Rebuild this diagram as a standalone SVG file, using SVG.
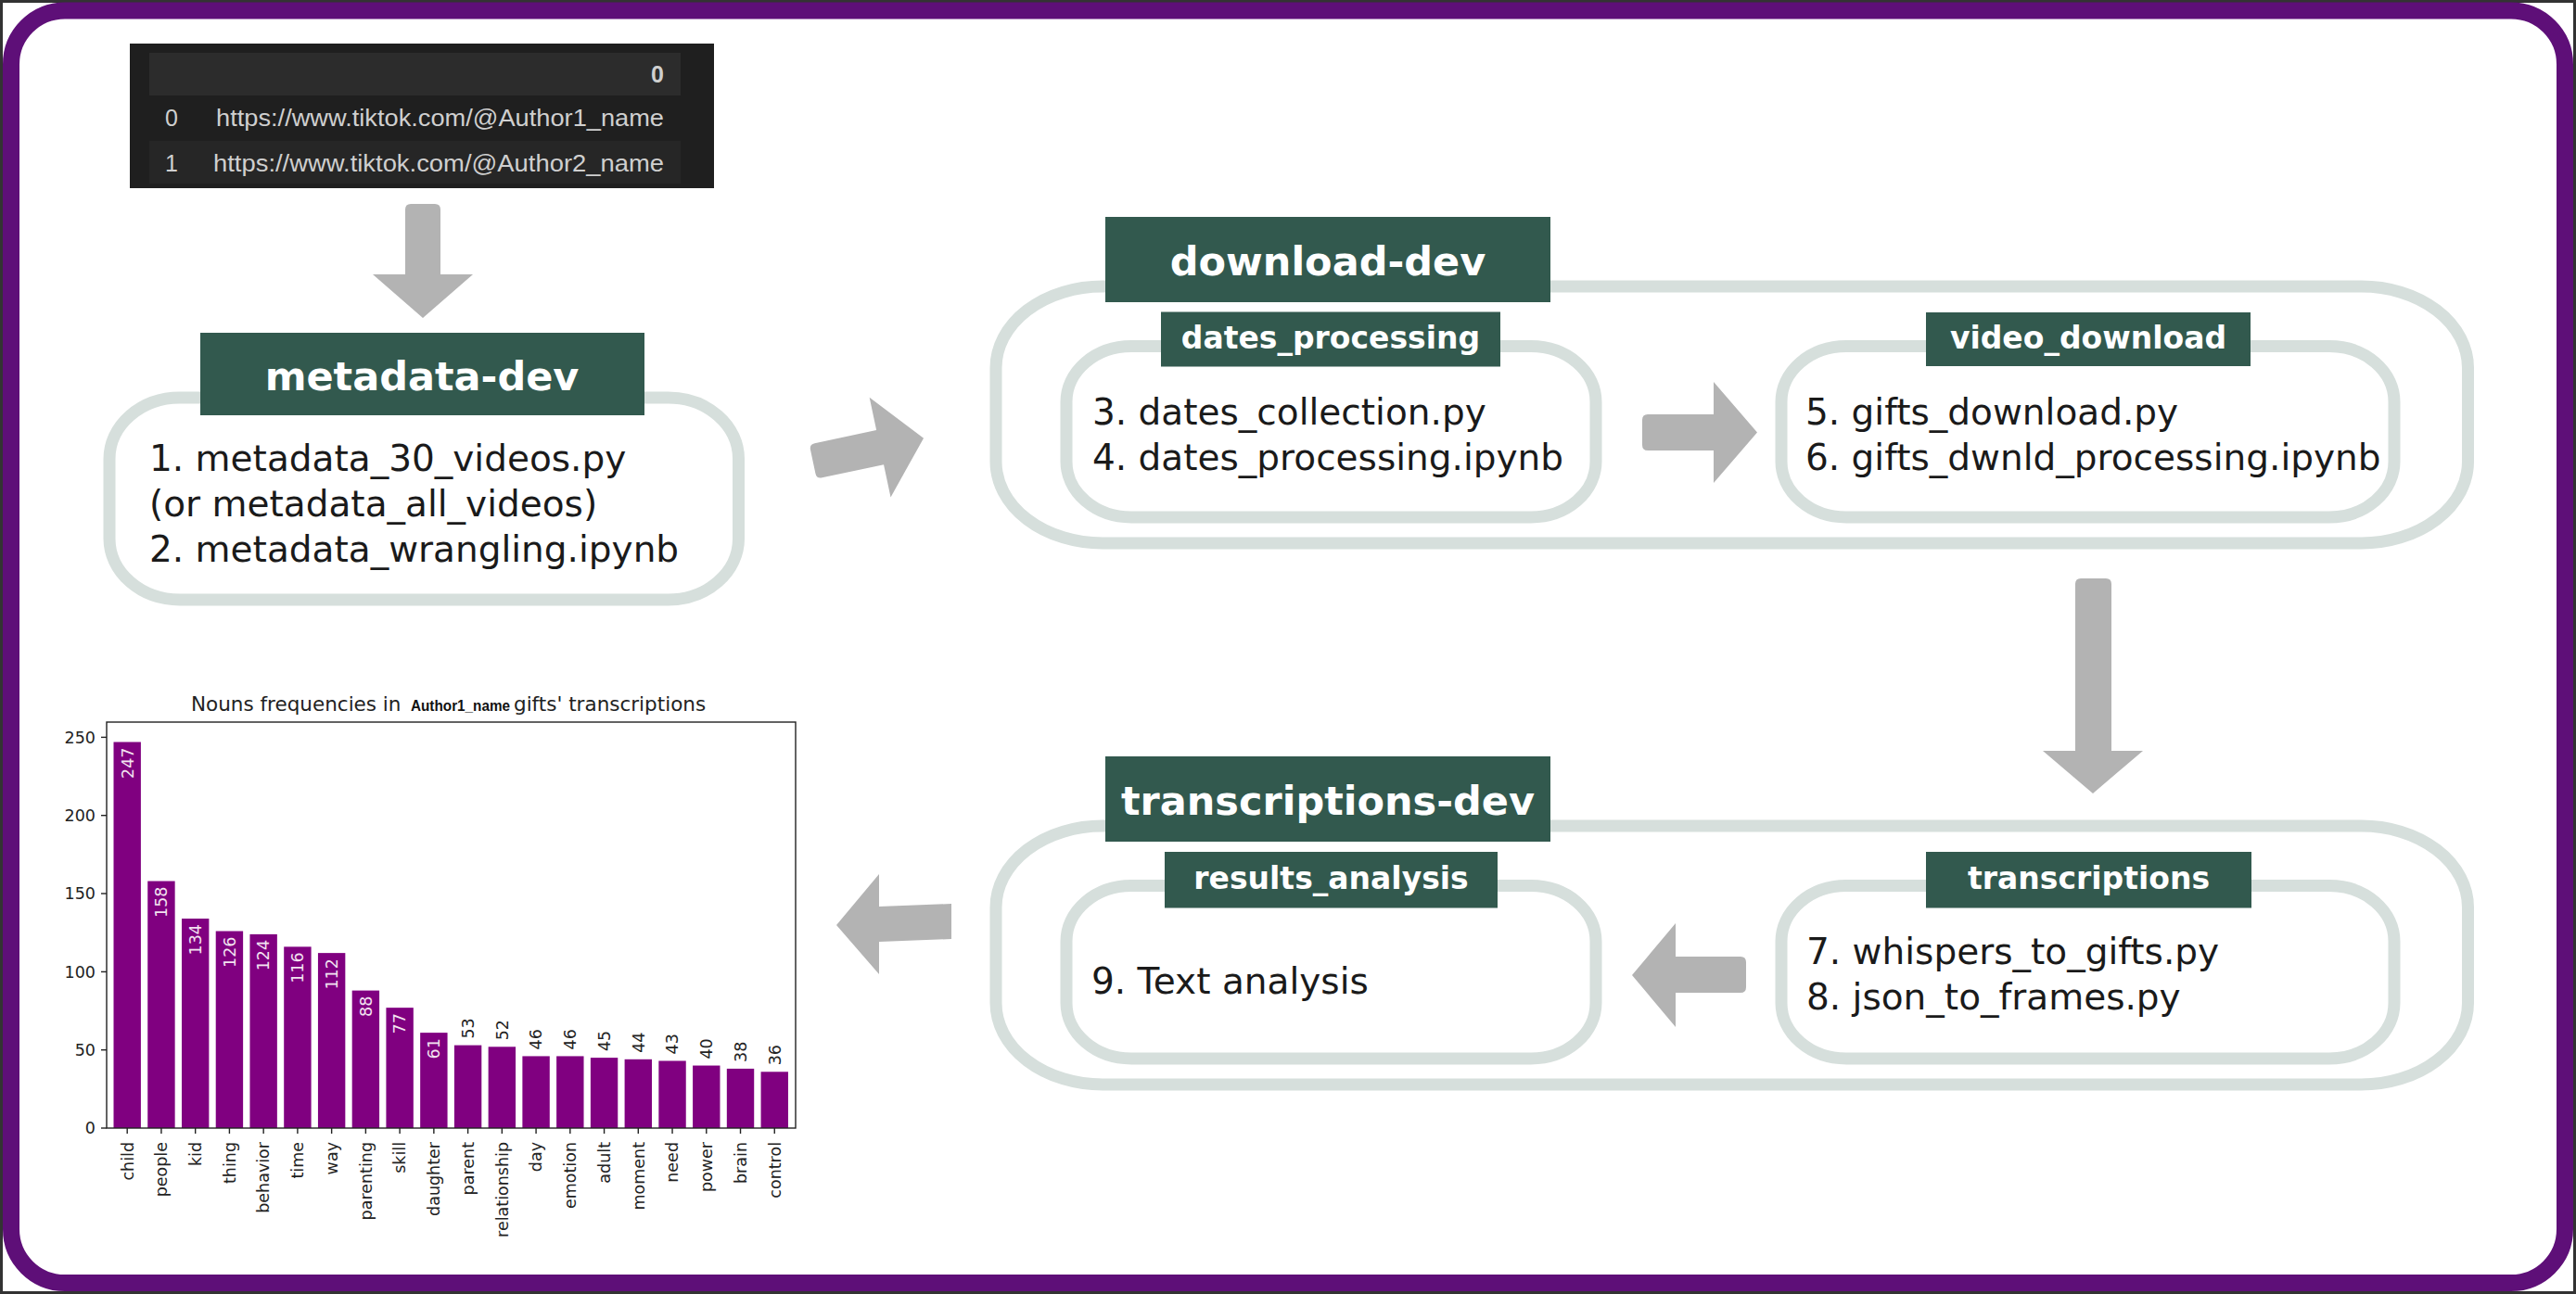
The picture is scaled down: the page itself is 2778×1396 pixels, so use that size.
<svg xmlns="http://www.w3.org/2000/svg" width="2778" height="1396" viewBox="0 0 2778 1396">
<style>
.hdr{fill:#32594e}
.hdrtxt{font-family:"DejaVu Sans",sans-serif;font-weight:bold;fill:#ffffff;text-anchor:middle}
.box{fill:#ffffff;stroke:#d6dfdc;stroke-width:13}
.body{font-family:"DejaVu Sans",sans-serif;font-size:39px;fill:#1a1a1a}
.arrow{fill:#b3b3b3}
.bar{fill:#800080}
.ct{font-family:"DejaVu Sans",sans-serif;font-size:17.5px;fill:#222222}
.title{font-family:"DejaVu Sans",sans-serif;font-size:21.5px;fill:#222222}
.vin{fill:#f3e3f1}
.tick{stroke:#222222;stroke-width:1.4}
.tt{font-family:"Liberation Sans",Arial,sans-serif;font-size:25px;fill:#cfcfcf}
</style>
<rect x="0" y="0" width="2778" height="1396" fill="#ffffff"/>
<rect x="1.5" y="1.5" width="2775" height="1393" fill="none" stroke="#333333" stroke-width="3"/>
<rect x="12" y="11.5" width="2754" height="1372.5" rx="58" fill="none" stroke="#5e0f78" stroke-width="18"/>

<g id="tiktok-table">
<rect x="140" y="47" width="630" height="156" fill="#1f1f1f"/>
<rect x="161" y="57" width="573" height="46" fill="#2c2c2c"/>
<rect x="161" y="152" width="573" height="46" fill="#262626"/>
<text class="tt" x="716" y="89" text-anchor="end" font-weight="bold">0</text>
<text class="tt" x="192" y="136" text-anchor="end">0</text>
<text class="tt" x="233" y="136" textLength="483" lengthAdjust="spacingAndGlyphs">https://www.tiktok.com/@Author1_name</text>
<text class="tt" x="192" y="185" text-anchor="end">1</text>
<text class="tt" x="230" y="185" textLength="486" lengthAdjust="spacingAndGlyphs">https://www.tiktok.com/@Author2_name</text>
</g>

<g id="metadata-dev">
<rect class="box" x="118" y="429" width="678.5" height="218" rx="76" ry="66"/>
<rect class="hdr" x="216" y="359" width="479" height="89"/>
<text class="hdrtxt" x="455" y="421" font-size="43">metadata-dev</text>
<text class="body" x="161" y="508">1. metadata_30_videos.py</text>
<text class="body" x="161" y="557">(or metadata_all_videos)</text>
<text class="body" x="161" y="606">2. metadata_wrangling.ipynb</text>
</g>

<g id="download-dev">
<rect class="box" x="1074" y="309" width="1587.5" height="277" rx="115" ry="88"/>
<rect class="hdr" x="1192" y="234" width="480" height="92"/>
<text class="hdrtxt" x="1432" y="297" font-size="43">download-dev</text>
<g id="dates_processing">
<rect class="box" x="1150" y="373.5" width="571" height="184.5" rx="70" ry="60"/>
<rect class="hdr" x="1252" y="336.5" width="366" height="59"/>
<text class="hdrtxt" x="1435" y="375.5" font-size="33">dates_processing</text>
<text class="body" x="1178" y="458">3. dates_collection.py</text>
<text class="body" x="1178" y="506.5">4. dates_processing.ipynb</text>
</g>
<g id="video_download">
<rect class="box" x="1921" y="373.5" width="661" height="184.5" rx="70" ry="60"/>
<rect class="hdr" x="2077" y="337" width="350" height="58"/>
<text class="hdrtxt" x="2252" y="375.5" font-size="33">video_download</text>
<text class="body" x="1947" y="458">5. gifts_download.py</text>
<text class="body" x="1947" y="506.5">6. gifts_dwnld_processing.ipynb</text>
</g>
</g>

<g id="transcriptions-dev">
<rect class="box" x="1074" y="891" width="1587.5" height="279" rx="115" ry="88"/>
<rect class="hdr" x="1192" y="816" width="480" height="92"/>
<text class="hdrtxt" x="1432" y="879" font-size="43">transcriptions-dev</text>
<g id="results_analysis">
<rect class="box" x="1150" y="955.5" width="571" height="186.5" rx="70" ry="60"/>
<rect class="hdr" x="1256" y="919" width="359" height="60.5"/>
<text class="hdrtxt" x="1435.5" y="958.5" font-size="33">results_analysis</text>
<text class="body" x="1177" y="1072">9. Text analysis</text>
</g>
<g id="transcriptions">
<rect class="box" x="1921" y="955.5" width="661" height="186.5" rx="70" ry="60"/>
<rect class="hdr" x="2077" y="919" width="351" height="60.5"/>
<text class="hdrtxt" x="2252.5" y="958.5" font-size="33">transcriptions</text>
<text class="body" x="1948" y="1040">7. whispers_to_gifts.py</text>
<text class="body" x="1948" y="1088.5">8. json_to_frames.py</text>
</g>
</g>

<g id="chart">
<text class="title" x="206" y="767">Nouns frequencies in</text>
<text x="443" y="767" font-family="'Liberation Sans',Arial,sans-serif" font-weight="bold" font-size="16" fill="#111111" textLength="107" lengthAdjust="spacingAndGlyphs">Author1_name</text>
<text class="title" x="554" y="767">gifts' transcriptions</text>
<g>
<rect class="bar" x="122.5" y="800.5" width="29.4" height="416.5"/>
<rect class="bar" x="159.24" y="950.55" width="29.4" height="266.45"/>
<rect class="bar" x="195.98" y="991.02" width="29.4" height="225.98"/>
<rect class="bar" x="232.72" y="1004.51" width="29.4" height="212.49"/>
<rect class="bar" x="269.46" y="1007.89" width="29.4" height="209.11"/>
<rect class="bar" x="306.2" y="1021.38" width="29.4" height="195.62"/>
<rect class="bar" x="342.94" y="1028.12" width="29.4" height="188.88"/>
<rect class="bar" x="379.68" y="1068.6" width="29.4" height="148.4"/>
<rect class="bar" x="416.42" y="1087.15" width="29.4" height="129.85"/>
<rect class="bar" x="453.16" y="1114.13" width="29.4" height="102.87"/>
<rect class="bar" x="489.9" y="1127.62" width="29.4" height="89.38"/>
<rect class="bar" x="526.64" y="1129.31" width="29.4" height="87.69"/>
<rect class="bar" x="563.38" y="1139.43" width="29.4" height="77.57"/>
<rect class="bar" x="600.12" y="1139.43" width="29.4" height="77.57"/>
<rect class="bar" x="636.86" y="1141.11" width="29.4" height="75.89"/>
<rect class="bar" x="673.6" y="1142.8" width="29.4" height="74.2"/>
<rect class="bar" x="710.34" y="1144.48" width="29.4" height="72.52"/>
<rect class="bar" x="747.08" y="1149.54" width="29.4" height="67.46"/>
<rect class="bar" x="783.82" y="1152.92" width="29.4" height="64.08"/>
<rect class="bar" x="820.56" y="1156.29" width="29.4" height="60.71"/>
</g>
<g text-anchor="end">
<text class="ct vin" transform="translate(143.5,806.5) rotate(-90)">247</text>
<text class="ct vin" transform="translate(180.24,956.55) rotate(-90)">158</text>
<text class="ct vin" transform="translate(216.98,997.02) rotate(-90)">134</text>
<text class="ct vin" transform="translate(253.72,1010.51) rotate(-90)">126</text>
<text class="ct vin" transform="translate(290.46,1013.89) rotate(-90)">124</text>
<text class="ct vin" transform="translate(327.2,1027.38) rotate(-90)">116</text>
<text class="ct vin" transform="translate(363.94,1034.12) rotate(-90)">112</text>
<text class="ct vin" transform="translate(400.68,1074.6) rotate(-90)">88</text>
<text class="ct vin" transform="translate(437.42,1093.15) rotate(-90)">77</text>
<text class="ct vin" transform="translate(474.16,1120.13) rotate(-90)">61</text>
</g>
<g class="ct" text-anchor="start">
<text transform="translate(510.9,1120.62) rotate(-90)">53</text>
<text transform="translate(547.64,1122.31) rotate(-90)">52</text>
<text transform="translate(584.38,1132.43) rotate(-90)">46</text>
<text transform="translate(621.12,1132.43) rotate(-90)">46</text>
<text transform="translate(657.86,1134.11) rotate(-90)">45</text>
<text transform="translate(694.6,1135.8) rotate(-90)">44</text>
<text transform="translate(731.34,1137.48) rotate(-90)">43</text>
<text transform="translate(768.08,1142.54) rotate(-90)">40</text>
<text transform="translate(804.82,1145.92) rotate(-90)">38</text>
<text transform="translate(841.56,1149.29) rotate(-90)">36</text>
</g>
<rect x="115" y="779" width="743" height="438" fill="none" stroke="#222222" stroke-width="1.4"/>
<g class="tick">
<line x1="109" y1="1217" x2="115" y2="1217"/>
<line x1="109" y1="1132.7" x2="115" y2="1132.7"/>
<line x1="109" y1="1048.4" x2="115" y2="1048.4"/>
<line x1="109" y1="964" x2="115" y2="964"/>
<line x1="109" y1="879.7" x2="115" y2="879.7"/>
<line x1="109" y1="795.4" x2="115" y2="795.4"/>
</g>
<g class="ct" text-anchor="end">
<text x="103" y="1223.3">0</text>
<text x="103" y="1139">50</text>
<text x="103" y="1054.7">100</text>
<text x="103" y="970.3">150</text>
<text x="103" y="886">200</text>
<text x="103" y="801.7">250</text>
</g>
<g class="tick">
<line x1="137.2" y1="1217" x2="137.2" y2="1223"/>
<line x1="173.94" y1="1217" x2="173.94" y2="1223"/>
<line x1="210.68" y1="1217" x2="210.68" y2="1223"/>
<line x1="247.42" y1="1217" x2="247.42" y2="1223"/>
<line x1="284.16" y1="1217" x2="284.16" y2="1223"/>
<line x1="320.9" y1="1217" x2="320.9" y2="1223"/>
<line x1="357.64" y1="1217" x2="357.64" y2="1223"/>
<line x1="394.38" y1="1217" x2="394.38" y2="1223"/>
<line x1="431.12" y1="1217" x2="431.12" y2="1223"/>
<line x1="467.86" y1="1217" x2="467.86" y2="1223"/>
<line x1="504.6" y1="1217" x2="504.6" y2="1223"/>
<line x1="541.34" y1="1217" x2="541.34" y2="1223"/>
<line x1="578.08" y1="1217" x2="578.08" y2="1223"/>
<line x1="614.82" y1="1217" x2="614.82" y2="1223"/>
<line x1="651.56" y1="1217" x2="651.56" y2="1223"/>
<line x1="688.3" y1="1217" x2="688.3" y2="1223"/>
<line x1="725.04" y1="1217" x2="725.04" y2="1223"/>
<line x1="761.78" y1="1217" x2="761.78" y2="1223"/>
<line x1="798.52" y1="1217" x2="798.52" y2="1223"/>
<line x1="835.26" y1="1217" x2="835.26" y2="1223"/>
</g>
<g class="ct" text-anchor="end">
<text transform="translate(143.5,1232) rotate(-90)">child</text>
<text transform="translate(180.24,1232) rotate(-90)">people</text>
<text transform="translate(216.98,1232) rotate(-90)">kid</text>
<text transform="translate(253.72,1232) rotate(-90)">thing</text>
<text transform="translate(290.46,1232) rotate(-90)">behavior</text>
<text transform="translate(327.2,1232) rotate(-90)">time</text>
<text transform="translate(363.94,1232) rotate(-90)">way</text>
<text transform="translate(400.68,1232) rotate(-90)">parenting</text>
<text transform="translate(437.42,1232) rotate(-90)">skill</text>
<text transform="translate(474.16,1232) rotate(-90)">daughter</text>
<text transform="translate(510.9,1232) rotate(-90)">parent</text>
<text transform="translate(547.64,1232) rotate(-90)">relationship</text>
<text transform="translate(584.38,1232) rotate(-90)">day</text>
<text transform="translate(621.12,1232) rotate(-90)">emotion</text>
<text transform="translate(657.86,1232) rotate(-90)">adult</text>
<text transform="translate(694.6,1232) rotate(-90)">moment</text>
<text transform="translate(731.34,1232) rotate(-90)">need</text>
<text transform="translate(768.08,1232) rotate(-90)">power</text>
<text transform="translate(804.82,1232) rotate(-90)">brain</text>
<text transform="translate(841.56,1232) rotate(-90)">control</text>
</g>
</g>

<g id="connectors">
<path class="arrow" d="M437,226 Q437,220 443,220 L469,220 Q475,220 475,226 L475,296 L510,296 L456,343 L402,296 L437,296 Z"/>
<path class="arrow" transform="translate(876.7,498) rotate(-12)" d="M6,-19 L74,-19 L74,-55 L122,0 L74,55 L74,19 L6,19 Q0,19 0,13 L0,-13 Q0,-19 6,-19 Z"/>
<path class="arrow" d="M1777,447 L1848,447 L1848,412 L1895,466.5 L1848,521 L1848,486 L1777,486 Q1771,486 1771,480 L1771,453 Q1771,447 1777,447 Z"/>
<path class="arrow" d="M2238,630 Q2238,624 2244,624 L2271,624 Q2277,624 2277,630 L2277,810 L2311,810 L2257,856 L2203,810 L2238,810 Z"/>
<path class="arrow" d="M1760,1052 L1807,996 L1807,1032 L1877,1032 Q1883,1032 1883,1038 L1883,1065 Q1883,1071 1877,1071 L1807,1071 L1807,1108 Z"/>
<path class="arrow" d="M902,998 L948,943 L948,978 L1026,975 L1026,1013 L948,1016 L948,1051 Z"/>
</g>
</svg>
